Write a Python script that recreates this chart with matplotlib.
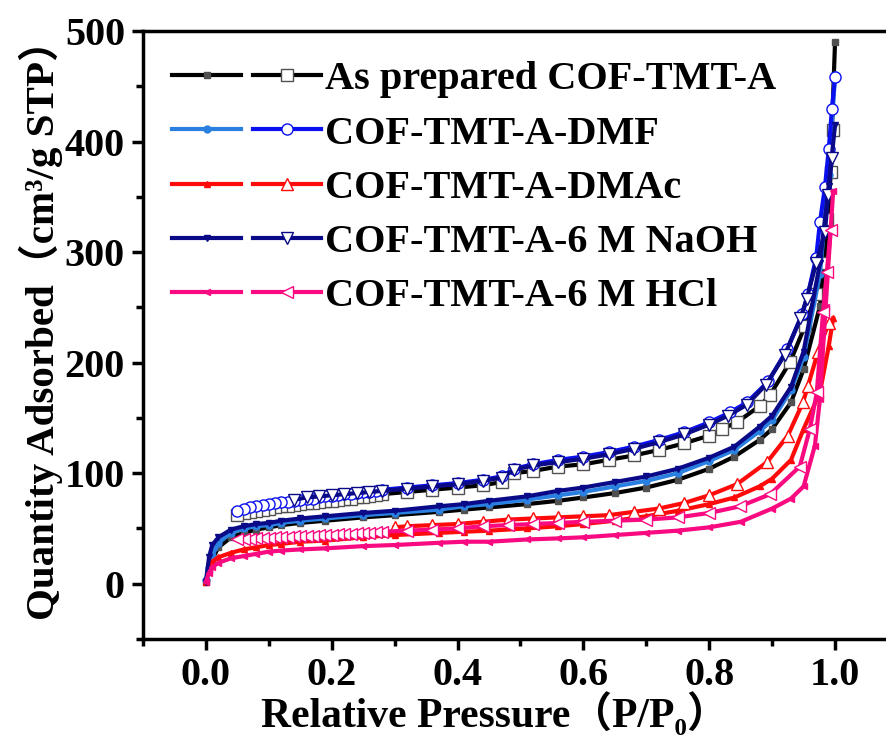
import matplotlib
matplotlib.use("Agg")
import matplotlib.pyplot as plt
from matplotlib.legend_handler import HandlerTuple
from matplotlib.ticker import MultipleLocator

plt.rcParams['font.family'] = ['Liberation Serif', 'Noto Sans CJK SC']
plt.rcParams['font.weight'] = 'bold'

# dense low-pressure desorption points
p_low = [0.05, 0.06, 0.07, 0.08, 0.09, 0.10, 0.11, 0.12, 0.13, 0.14, 0.15, 0.16,
         0.17, 0.18, 0.19, 0.20, 0.21, 0.22, 0.23, 0.24, 0.25, 0.26, 0.27]

# As prepared COF-TMT-A
asp_ads_p = [0.0, 0.005, 0.01, 0.02, 0.04, 0.06, 0.08, 0.10, 0.12, 0.15, 0.19, 0.25, 0.30,
             0.37, 0.41, 0.45, 0.51, 0.56, 0.60, 0.65, 0.70, 0.75, 0.80, 0.84, 0.88, 0.90,
             0.93, 0.95, 0.976, 0.99, 1.0]
asp_ads_v = [2, 12, 22, 33, 42, 46, 49, 51, 53, 55, 57, 60, 62, 65, 67, 69, 72, 75, 78, 82,
             87, 94, 104, 115, 130, 140, 164, 194, 251, 330, 490]
asp_des_p = [0.997, 0.993, 0.988, 0.98, 0.97, 0.952, 0.929, 0.897, 0.881, 0.844, 0.82, 0.80,
             0.76, 0.72, 0.68, 0.64, 0.60, 0.56, 0.52, 0.49, 0.47, 0.44, 0.40, 0.36, 0.32,
             0.28] + p_low[::-1]
asp_des_v = [410, 372, 330, 290, 262, 233, 201, 171, 161, 146, 140, 134, 127, 121, 116, 112,
             108, 106, 102, 100, 92, 89, 87, 85, 83, 81,
             80, 79, 78, 78, 77, 77, 76, 75, 75, 74, 73, 73, 72, 71, 70, 70, 69, 68, 67, 66,
             65, 64, 62]

# COF-TMT-A-DMF
dmf_ads_p = asp_ads_p
dmf_ads_v = [3, 14, 25, 37, 46, 50, 52, 53, 55, 57, 59, 62, 64, 67, 70, 72, 76, 80, 83, 88,
             93, 100, 111, 121, 138, 148, 175, 205, 280, 370, 460]
dmf_des_p = [1.0, 0.995, 0.99, 0.984, 0.976, 0.97, 0.957, 0.948, 0.924, 0.894, 0.86, 0.833,
             0.80, 0.76, 0.72, 0.68, 0.64, 0.60, 0.56, 0.52, 0.49, 0.47, 0.44, 0.40, 0.36,
             0.32, 0.28] + p_low[::-1]
dmf_des_v = [458, 429, 393, 359, 327, 295, 262, 244, 212, 183, 164, 155, 146, 137, 130, 124,
             119, 115, 112, 108, 104, 97, 94, 91, 89, 87, 85,
             84, 83, 83, 82, 81, 81, 80, 79, 79, 78, 77, 77, 76, 75, 74, 74, 73, 72, 71, 70,
             69, 68, 66]

# COF-TMT-A-DMAc
dmac_ads_p = [0.0, 0.005, 0.01, 0.02, 0.04, 0.06, 0.08, 0.10, 0.12, 0.15, 0.19, 0.25, 0.30,
              0.37, 0.41, 0.45, 0.51, 0.56, 0.60, 0.65, 0.70, 0.75, 0.80, 0.84, 0.88, 0.90,
              0.93, 0.95, 0.976, 0.99, 0.997]
dmac_ads_v = [2, 15, 20, 24, 28, 31, 33, 35, 36, 38, 39, 42, 44, 46, 47, 48, 50, 52, 54, 57,
              61, 66, 72, 78, 88, 95, 112, 140, 173, 215, 240]
dmac_des_p = [0.99, 0.973, 0.957, 0.949, 0.925, 0.892, 0.844, 0.80, 0.76, 0.72, 0.68, 0.64,
              0.60, 0.56, 0.52, 0.48, 0.44, 0.40, 0.36, 0.32, 0.30]
dmac_des_v = [236, 210, 179, 164, 134, 110, 90, 80, 73, 68, 65, 62, 61, 60, 59, 58, 56, 54,
              53, 52, 51]

# COF-TMT-A-6 M NaOH
naoh_ads_p = asp_ads_p
naoh_ads_v = [2, 24, 35, 42, 49, 52, 54, 55, 57, 59, 61, 64, 66, 70, 72, 75, 79, 84, 87, 92,
              97, 104, 114, 124, 142, 152, 178, 210, 290, 360, 415]
naoh_des_p = [0.995, 0.989, 0.984, 0.97, 0.955, 0.945, 0.92, 0.89, 0.86, 0.83, 0.80, 0.76,
              0.72, 0.68, 0.64, 0.60, 0.56, 0.52, 0.49, 0.47, 0.44, 0.40, 0.36, 0.32, 0.28,
              0.26, 0.24, 0.22, 0.20, 0.18, 0.16, 0.14]
naoh_des_v = [385, 352, 318, 290, 258, 240, 207, 180, 162, 152, 144, 135, 128, 122, 117, 113,
              110, 107, 103, 96, 93, 90, 88, 86, 84, 83, 82, 81, 80, 79, 78, 76]

# COF-TMT-A-6 M HCl
hcl_ads_p = [0.0, 0.005, 0.01, 0.02, 0.04, 0.06, 0.08, 0.10, 0.12, 0.15, 0.19, 0.25, 0.30,
             0.37, 0.41, 0.45, 0.51, 0.56, 0.60, 0.65, 0.70, 0.75, 0.80, 0.85, 0.90, 0.93,
             0.95, 0.968, 0.976, 0.985, 0.997]
hcl_ads_v = [2, 10, 15, 19, 23, 25, 27, 29, 30, 31, 32, 34, 35, 37, 38, 38, 40, 41, 42, 44,
             46, 48, 51, 56, 68, 77, 88, 125, 167, 250, 355]
hcl_des_p = [0.993, 0.987, 0.981, 0.971, 0.96, 0.944, 0.897, 0.849, 0.80, 0.75, 0.70, 0.65,
             0.60, 0.56, 0.52, 0.48, 0.44, 0.40, 0.36, 0.32, 0.28] + p_low[::-1]
hcl_des_v = [320, 282, 246, 173, 140, 106, 81, 70, 64, 60, 58, 57, 56, 55, 54, 53, 52, 50,
             49, 48, 47,
             47, 46, 46, 46, 45, 45, 45, 44, 44, 44, 43, 43, 43, 43, 42, 42, 42, 41, 41, 41,
             40, 40, 40]

labels = ['As prepared COF-TMT-A', 'COF-TMT-A-DMF', 'COF-TMT-A-DMAc',
          'COF-TMT-A-6 M NaOH', 'COF-TMT-A-6 M HCl']

fig = plt.figure(figsize=(8.86, 7.47), dpi=100)
ax = fig.add_axes([0.1614, 0.1446, 0.8386, 0.8139])

lw = 3.0
ms_f = 5
ms_o = 8

series = [
    # (ads_p, ads_v, des_p, des_v, line_ads, line_des, marker, filled_color, open_edge)
    (asp_ads_p, asp_ads_v, asp_des_p, asp_des_v, 'black', 'black', 's', '#505050', '#505050'),
    (dmf_ads_p, dmf_ads_v, dmf_des_p, dmf_des_v, '#2a80e0', '#0a10f0', 'o', '#2a80e0', '#0a10f0'),
    (dmac_ads_p, dmac_ads_v, dmac_des_p, dmac_des_v, '#ff0a0a', '#ff0a0a', '^', '#ff0a0a', '#ff0a0a'),
    (naoh_ads_p, naoh_ads_v, naoh_des_p, naoh_des_v, '#0a0a88', '#0a0a88', 'v', '#0a0a88', '#0a0a88'),
    (hcl_ads_p, hcl_ads_v, hcl_des_p, hcl_des_v, '#fa0a80', '#fa0a80', '<', '#fa0a80', '#fa0a80'),
]

handles = []
for ap, av, dp, dv, ca, cd, mk, fc, oe in series:
    la, = ax.plot(ap, av, color=ca, lw=lw, marker=mk, ms=ms_f, mfc=fc, mec=fc)
    ld, = ax.plot(dp, dv, color=cd, lw=lw, marker=mk, ms=ms_o, mfc='white', mec=oe, mew=1.0)
    handles.append((la, ld))

ax.set_xlim(-0.1, 1.081)
ax.set_ylim(-50, 500)
ax.xaxis.set_major_locator(MultipleLocator(0.2))
ax.xaxis.set_minor_locator(MultipleLocator(0.1))
ax.yaxis.set_major_locator(MultipleLocator(100))
ax.yaxis.set_minor_locator(MultipleLocator(50))
ax.set_xticks([0.0, 0.2, 0.4, 0.6, 0.8, 1.0])
ax.set_xticklabels(['0.0', '0.2', '0.4', '0.6', '0.8', '1.0'])

for s in ['left', 'bottom', 'top']:
    ax.spines[s].set_linewidth(2.5)
ax.spines['right'].set_visible(False)
ax.tick_params(which='major', direction='out', length=8, width=2.5, labelsize=29, pad=5)
ax.tick_params(which='minor', direction='out', length=5, width=2.5)
for t in ax.get_xticklabels() + ax.get_yticklabels():
    t.set_fontweight('bold')

ax.set_xlabel('Relative Pressure（P/P₀）', fontsize=30, fontweight='bold', labelpad=-1)
ax.xaxis.label.set_x(0.474)
ax.set_ylabel('Quantity Adsorbed（cm³/g STP）', fontsize=29.5, fontweight='bold', labelpad=1)
ax.yaxis.label.set_y(0.525)

ax.legend(handles, labels, handler_map={tuple: HandlerTuple(ndivide=None, pad=0.3)},
          loc='upper left', bbox_to_anchor=(0.007, 0.99), frameon=False,
          prop={'size': 29, 'weight': 'bold'}, handlelength=3.7, handletextpad=0.1,
          labelspacing=0.42, borderaxespad=0.2)

fig.savefig('out.png', dpi=100)
